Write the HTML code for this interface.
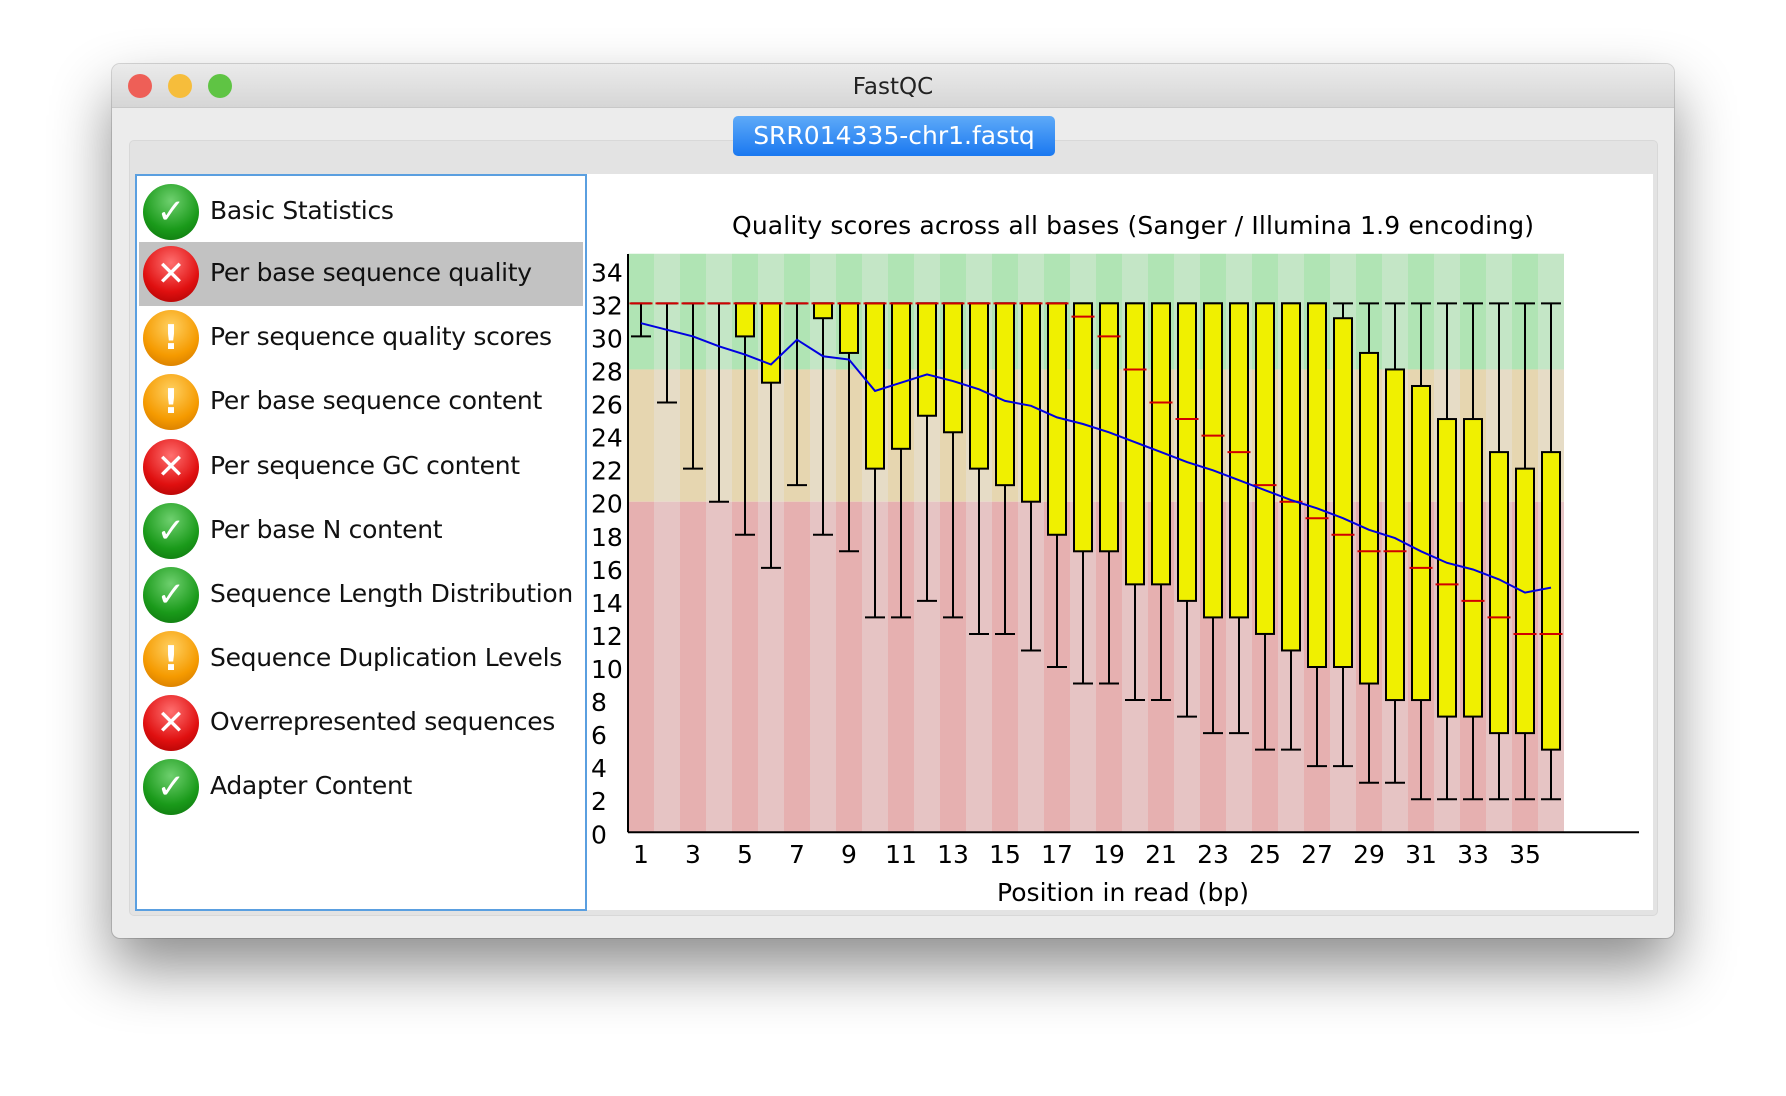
<!DOCTYPE html>
<html><head><meta charset="utf-8"><style>
body{margin:0;width:1786px;height:1096px;background:#fff;position:relative;overflow:hidden;font-family:"DejaVu Sans","Liberation Sans",sans-serif}
.win{position:absolute;left:112px;top:64px;width:1562px;height:874px;background:#ececec;border-radius:8px;box-shadow:0 30px 60px rgba(0,0,0,.45),0 0 0 1px rgba(0,0,0,.15)}
.tb{position:absolute;left:0;top:0;right:0;height:43px;border-bottom:1px solid #c8c8c8;background:linear-gradient(#ebebeb,#d6d6d6);border-radius:8px 8px 0 0}
.dot{position:absolute;top:10px;width:24px;height:24px;border-radius:50%}
.title{position:absolute;left:0;right:0;top:10px;text-align:center;font-size:23px;color:#222}
.inner{position:absolute;left:17px;top:76px;width:1527px;height:774px;background:#e3e3e3;border-radius:5px;border:1px solid #d8d8d8}
.tab{position:absolute;left:621px;top:52px;width:322px;height:40px;border-radius:5px;background:linear-gradient(#5eaaf8,#1a78f0);color:#fff;font-size:25px;text-align:center;line-height:40px}
.content{position:absolute;left:23px;top:110px;width:1518px;height:736px;background:#fff}
.list{position:absolute;left:23px;top:110px;width:448px;height:733px;border:2px solid #5a9fe0;background:#fff}
.item{position:absolute;left:2px;width:444px;height:64px}
.item.sel{background:#c2c2c2}
.ic{position:absolute;left:4px;top:4px;width:56px;height:56px;border-radius:50%;color:#fff;font-weight:bold;font-size:34px;text-align:center;line-height:56px}
.ok{background:radial-gradient(circle at 50% 30%,#6fd06f,#1a9a1a 60%,#0c6e0c)}
.bad{background:radial-gradient(circle at 50% 30%,#ff7070,#e01010 60%,#a00000)}
.warn{background:radial-gradient(circle at 50% 30%,#ffd060,#f59a00 60%,#c87000)}
.lbl{position:absolute;left:71px;top:16px;font-size:25px;color:#111;white-space:nowrap;letter-spacing:-0.3px}
svg{position:absolute;left:0;top:0}
</style></head><body>
<div class="win">
<div class="tb">
<div class="dot" style="left:16px;background:#ee5f57"></div>
<div class="dot" style="left:56px;background:#f6bd3b"></div>
<div class="dot" style="left:96px;background:#5fc444"></div>
<div class="title">FastQC</div>
</div>
<div class="inner"></div>
<div class="tab">SRR014335-chr1.fastq</div>
<div class="content"></div>
<div class="list">
<div class="item" style="top:4px"><div class="ic ok">✓</div><div class="lbl">Basic Statistics</div></div>
<div class="item sel" style="top:66px"><div class="ic bad">✕</div><div class="lbl">Per base sequence quality</div></div>
<div class="item" style="top:130px"><div class="ic warn">!</div><div class="lbl">Per sequence quality scores</div></div>
<div class="item" style="top:194px"><div class="ic warn">!</div><div class="lbl">Per base sequence content</div></div>
<div class="item" style="top:259px"><div class="ic bad">✕</div><div class="lbl">Per sequence GC content</div></div>
<div class="item" style="top:323px"><div class="ic ok">✓</div><div class="lbl">Per base N content</div></div>
<div class="item" style="top:387px"><div class="ic ok">✓</div><div class="lbl">Sequence Length Distribution</div></div>
<div class="item" style="top:451px"><div class="ic warn">!</div><div class="lbl">Sequence Duplication Levels</div></div>
<div class="item" style="top:515px"><div class="ic bad">✕</div><div class="lbl">Overrepresented sequences</div></div>
<div class="item" style="top:579px"><div class="ic ok">✓</div><div class="lbl">Adapter Content</div></div>
</div>
</div>
<svg id="chart" width="1786" height="1096"></svg>
<script>
const positions=[1,2,3,4,5,6,7,8,9,10,11,12,13,14,15,16,17,18,19,20,21,22,23,24,25,26,27,28,29,30,31,32,33,34,35,36];
const lowWhisker=[30,26,22,20,18,16,21,18,17,13,13,14,13,12,12,11,10,9,9,8,8,7,6,6,5,5,4,4,3,3,2,2,2,2,2,2];
const q1=[32,32,32,32,30,27.2,32,31.1,29,22,23.2,25.2,24.2,22,21,20,18,17,17,15,15,14,13,13,12,11,10,10,9,8,8,7,7,6,6,5];
const medians=[32,32,32,32,32,32,32,32,32,32,32,32,32,32,32,32,32,31.2,30,28,26,25,24,23,21,20,19,18,17,17,16,15,14,13,12,12];
const q3=[32,32,32,32,32,32,32,32,32,32,32,32,32,32,32,32,32,32,32,32,32,32,32,32,32,32,32,31.1,29,28,27,25,25,23,22,23];
const highWhisker=[32,32,32,32,32,32,32,32,32,32,32,32,32,32,32,32,32,32,32,32,32,32,32,32,32,32,32,32,32,32,32,32,32,32,32,32];
const means=[30.8,30.4,30,29.4,28.9,28.3,29.8,28.8,28.6,26.7,27.2,27.7,27.3,26.8,26.1,25.8,25.1,24.7,24.2,23.6,23,22.4,21.9,21.3,20.7,20.1,19.6,19,18.3,17.8,17,16.3,15.9,15.3,14.5,14.8];
const yTicks=[0,2,4,6,8,10,12,14,16,18,20,22,24,26,28,30,32,34];
const xTicks=[1,3,5,7,9,11,13,15,17,19,21,23,25,27,29,31,33,35];
const X0=628,CW=26,Y0=832.3,PU=16.53,YMAX=35;
const y=v=>Y0-v*PU;
const xc=p=>X0+(p-0.5)*CW;
const svg=document.getElementById('chart');
const NS='http://www.w3.org/2000/svg';
function mk(t,a,parent){const e=document.createElementNS(NS,t);for(const k in a)e.setAttribute(k,a[k]);(parent||svg).appendChild(e);return e;}
const bands=[[28,YMAX,'#b0e4b4','#c4e6c6'],[20,28,'#e6d6b0','#e6dcc6'],[0,20,'#e6b0b0','#e6c4c4']];
positions.forEach((p,i)=>{bands.forEach(b=>{
 const r=mk('rect',{x:X0+i*CW,y:y(b[1]),width:CW,height:y(b[0])-y(b[1]),fill:i%2?b[3]:b[2]});
 
 
});});
positions.forEach((p,i)=>{
 const cx=xc(p);
 const g=mk('g',{});
 
 
 mk('line',{x1:cx,x2:cx,y1:y(highWhisker[i]),y2:y(lowWhisker[i]),stroke:'#000','stroke-width':2},g);
 mk('line',{x1:cx-10,x2:cx+10,y1:y(lowWhisker[i]),y2:y(lowWhisker[i]),stroke:'#000','stroke-width':2},g);
 mk('line',{x1:cx-10,x2:cx+10,y1:y(highWhisker[i]),y2:y(highWhisker[i]),stroke:'#000','stroke-width':2},g);
 if(q3[i]-q1[i]>0.01) mk('rect',{x:cx-9,y:y(q3[i]),width:18,height:y(q1[i])-y(q3[i]),fill:'#f0f000',stroke:'#000','stroke-width':2},g);
 mk('line',{x1:cx-11.5,x2:cx+11.5,y1:y(medians[i]),y2:y(medians[i]),stroke:'#d00000','stroke-width':2},g);
});
const ml=mk('polyline',{points:positions.map((p,i)=>xc(p)+','+y(means[i])).join(' '),fill:'none',stroke:'#0000e0','stroke-width':2});


const ya=mk('line',{x1:X0,x2:X0,y1:254,y2:Y0,stroke:'#000','stroke-width':2});


const xa=mk('line',{x1:X0,x2:1639,y1:Y0,y2:Y0,stroke:'#000','stroke-width':2});


yTicks.forEach(v=>{const t=mk('text',{x:591,y:y(v)+11,'font-size':25,'font-family':'DejaVu Sans, sans-serif',fill:'#000'});t.textContent=v;
 
 });
xTicks.forEach(v=>{const t=mk('text',{x:xc(v),y:863,'font-size':25,'text-anchor':'middle','font-family':'DejaVu Sans, sans-serif',fill:'#000'});t.textContent=v;
 
 });
const tt=mk('text',{x:1133,y:234,'font-size':25,'text-anchor':'middle','font-family':'DejaVu Sans, sans-serif',fill:'#000',textLength:802,lengthAdjust:'spacing'});
tt.textContent='Quality scores across all bases (Sanger / Illumina 1.9 encoding)';


const xt=mk('text',{x:1123,y:901,'font-size':25,'text-anchor':'middle','font-family':'DejaVu Sans, sans-serif',fill:'#000',textLength:252,lengthAdjust:'spacing'});
xt.textContent='Position in read (bp)';


</script>
</body></html>
